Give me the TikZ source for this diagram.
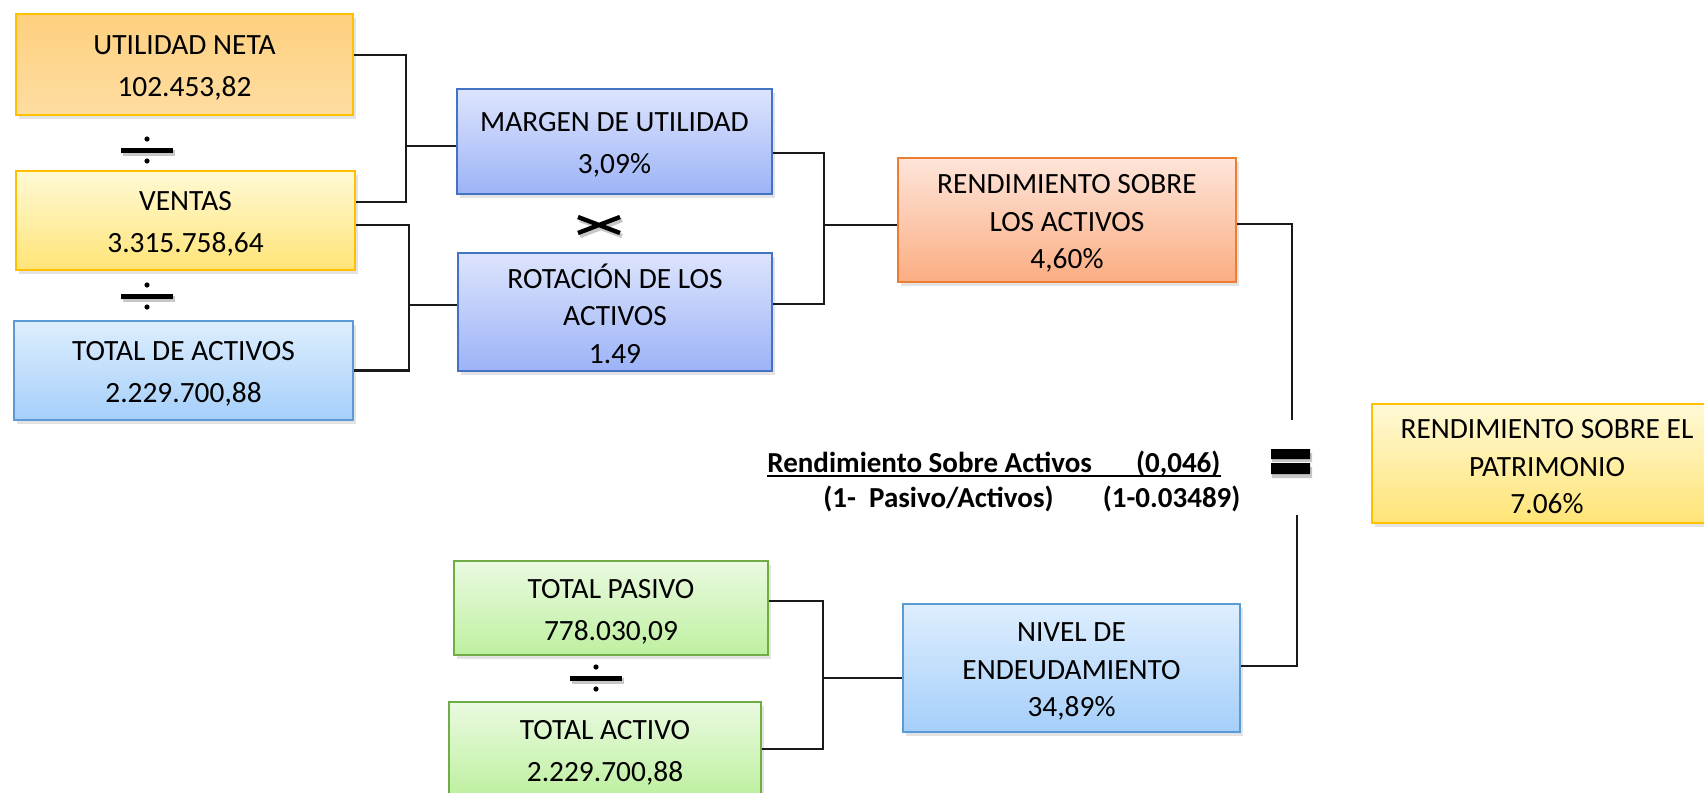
\documentclass[tikz,border=0pt]{standalone}
\usepackage{fontspec}
\setmainfont{Carlito}
\usetikzlibrary{calc,shadows}
\definecolor{goldB}{HTML}{FFC000}
\definecolor{blueB}{HTML}{5B9BD5}
\definecolor{indB}{HTML}{4472C4}
\definecolor{orB}{HTML}{ED7D31}
\definecolor{grB}{HTML}{70AD47}
\definecolor{orT}{HTML}{FED07E}
\definecolor{orBt}{HTML}{FEDDA2}
\definecolor{yeT}{HTML}{FFF9D6}
\definecolor{yeBt}{HTML}{FFE476}
\definecolor{skT}{HTML}{DEEEFE}
\definecolor{skBt}{HTML}{A5CFFA}
\definecolor{inT}{HTML}{DDE4FC}
\definecolor{inBt}{HTML}{9CB3F7}
\definecolor{saT}{HTML}{FEE5DA}
\definecolor{saBt}{HTML}{FBAD82}
\definecolor{grT}{HTML}{EAFAE0}
\definecolor{grBt}{HTML}{BEF0A0}
\newcommand{\topstrut}{\rule{0pt}{13pt}}
\begin{document}
\begin{tikzpicture}[x=0.5pt,y=-0.5pt,
  kbox/.style={draw, line width=1pt, align=center, inner sep=0pt,
    font=\fontsize{14.7}{21}\selectfont,
    drop shadow={opacity=0.22, shadow xshift=1.5pt, shadow yshift=-2pt}},
  three/.style={font=\fontsize{14.7}{18.7}\selectfont},
  orangebox/.style={kbox, draw=goldB, top color=orT, bottom color=orBt},
  yellowbox/.style={kbox, draw=goldB, top color=yeT, bottom color=yeBt},
  skybox/.style={kbox, draw=blueB, top color=skT, bottom color=skBt},
  indbox/.style={kbox, draw=indB, top color=inT, bottom color=inBt},
  salbox/.style={kbox, draw=orB, top color=saT, bottom color=saBt},
  greenbox/.style={kbox, draw=grB, top color=grT, bottom color=grBt},
  conn/.style={line width=1.25pt, draw=black!90},
  formula/.style={font=\bfseries\fontsize{14.5}{17}\selectfont, inner sep=0pt},
  divsign/.pic={
    \fill[black!22] (-24,0) rectangle (28,5.5);
    \fill (-26,-2.5) rectangle (26,2.5);
    \fill (0,-11) circle[radius=1.3pt];
    \fill (0,11) circle[radius=1.3pt];}
]
\useasboundingbox (0,0) rectangle (1704,793);
\clip (0,0) rectangle (1704,793);
\fill[white] (0,0) rectangle (1704,793);

% boxes
\node[orangebox, minimum width=168.5pt, minimum height=50.5pt] (un) at (184.5,64.5) {\topstrut UTILIDAD NETA\\102.453,82};
\node[yellowbox, minimum width=169.5pt, minimum height=49.5pt] (ve) at (185.5,220.5) {\topstrut VENTAS\\3.315.758,64};
\node[skybox, minimum width=169.5pt, minimum height=49.5pt] (ta) at (183.5,370.5) {\topstrut TOTAL DE ACTIVOS\\2.229.700,88};
\node[indbox, minimum width=157.5pt, minimum height=52.5pt] (mu) at (614.5,141.5) {\topstrut MARGEN DE UTILIDAD\\3,09\%};
\node[indbox, three, minimum width=157pt, minimum height=59pt] (ro) at (615,312) {\rule{0pt}{14pt}ROTACIÓN DE LOS\\ACTIVOS\\1.49};
\node[salbox, three, minimum width=169pt, minimum height=62pt] (rsa) at (1067,220) {\topstrut RENDIMIENTO SOBRE\\LOS ACTIVOS\\4,60\%};
\node[yellowbox, three, minimum width=175pt, minimum height=59.5pt] (rsp) at (1547,463.5) {\topstrut RENDIMIENTO SOBRE EL\\PATRIMONIO\\7.06\%};
\node[greenbox, minimum width=157pt, minimum height=47pt] (tp) at (611,608) {\topstrut TOTAL PASIVO\\778.030,09};
\node[greenbox, minimum width=156pt, minimum height=47pt] (tac) at (605,749) {\topstrut TOTAL ACTIVO\\2.229.700,88};
\node[skybox, three, minimum width=168.5pt, minimum height=64pt] (ne) at (1071.5,668) {\topstrut NIVEL DE\\ENDEUDAMIENTO\\34,89\%};

% connectors
\coordinate (j1) at (406,146);
\draw[conn] ($(un.east)+(0,-9.5)$) -| (j1) |- ($(ve.east)+(0,-18.5)$);
\draw[conn] (j1) -- (j1 -| mu.west);

\coordinate (j2) at (409,305);
\draw[conn] ($(ve.east)+(0,4.5)$) -| (j2) |- (ta.east);
\draw[conn] (j2) -- (j2 -| ro.west);

\coordinate (j3) at (824,225);
\draw[conn] ($(mu.east)+(0,11.5)$) -| (j3) |- ($(ro.east)+(0,-8)$);
\draw[conn] (j3) -- (j3 -| rsa.west);

\coordinate (e1) at (1292,420);
\draw[conn] ($(rsa.east)+(0,4)$) -| (e1);

\coordinate (e2) at (1297,515);
\draw[conn] ($(ne.east)+(0,-2)$) -| (e2);

\coordinate (j6) at (823,678);
\draw[conn] ($(tp.east)+(0,-7)$) -| (j6) |- (tac.east);
\draw[conn] (j6) -- (j6 -| ne.west);

% operators
\pic (op1) at (147,150) {divsign};
\pic (op2) at (147,296) {divsign};
\pic (op3) at (596,678) {divsign};
\draw[line width=2.2pt, black!22] (580,220)--(622,236) (580,236)--(622,220);
\draw[line width=2.2pt] (578,217)--(620,233) (578,233)--(620,217);
\fill[black!22] (1272,453) rectangle (1312,462) (1272,467) rectangle (1312,478);
\fill (1271,449) rectangle (1310,459) (1271,463) rectangle (1310,474);

% formula
\node[formula, anchor=base west] (f1) at (767,472) {\makebox[226.5pt]{Rendimiento Sobre Activos\hfill(0,046)}};
\draw[line width=0.8pt] ($(f1.base west)+(0,4)$) -- ($(f1.base east)+(0,4)$);
\node[formula, anchor=base west] (f2) at (823,507) {\makebox[208.5pt]{(1-\ \ Pasivo/Activos)\hfill(1-0.03489)}};
\end{tikzpicture}
\end{document}
